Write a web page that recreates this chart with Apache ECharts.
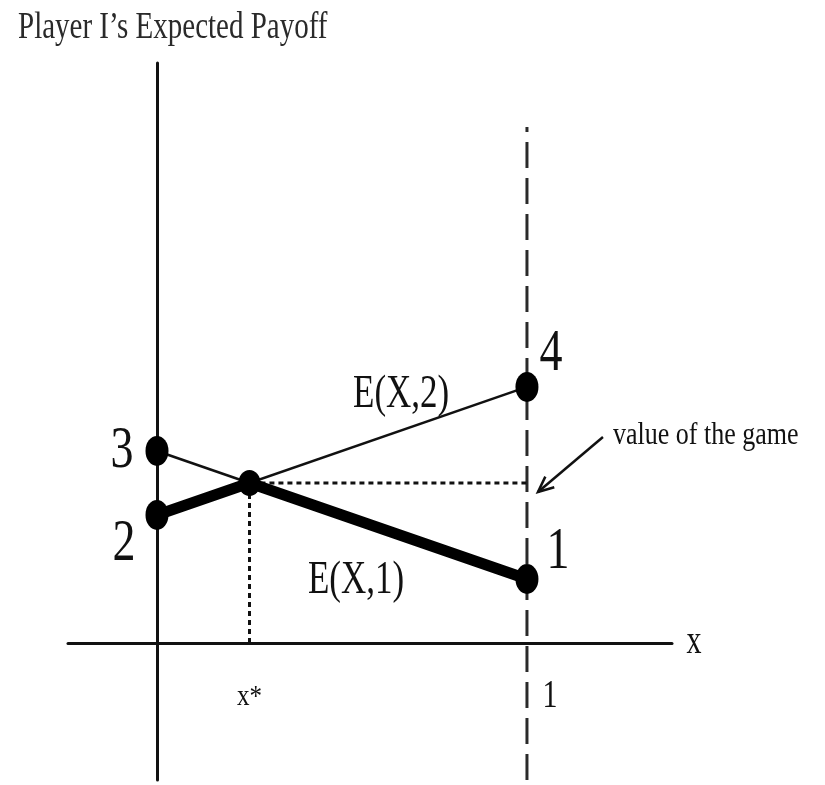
<!DOCTYPE html>
<html>
<head>
<meta charset="utf-8">
<title>Player I's Expected Payoff</title>
<script src="https://cdn.jsdelivr.net/npm/echarts@6/dist/echarts.min.js"></script>
<style>
  html, body { margin: 0; padding: 0; background: #fff; }
  #main { width: 825px; height: 785px; }
</style>
</head>
<body>
<div id="main"></div>
<script>
// probability x that player I puts on row 1 (ends of the segment)
const xEnds = [0, 1];
// player I's expected payoff against each column of player II
const payoffCol1 = [3, 1]; // E(X,1)
const payoffCol2 = [2, 4]; // E(X,2)
// optimal strategy and value of the game
const xStar = 0.25;
const gameValue = 2.5;

const lineNames = ['E(X,1)', 'E(X,2)'];
const yAxisTitle = 'Player I’s Expected Payoff';
const xAxisTitle = 'x';
const xTickLabels = ['x*', '1'];
const valueNote = 'value of the game';

// visible extent of the two axes
const xMin = -0.2405, xMax = 1.392;
const yMin = -2.14, yMax = 9.06;

const FONT = '"Liberation Serif", "Times New Roman", serif';
const INK = '#111';

const seg = (ys) => xEnds.map((x, i) => [x, ys[i]]);
const lowerEnvelope = [
  [xEnds[0], Math.min(payoffCol1[0], payoffCol2[0])],
  [xStar, gameValue],
  [xEnds[1], Math.min(payoffCol1[1], payoffCol2[1])],
];

// text notes, anchored on data points, shifted in pixels
const lerp = (ys, t) => ys[0] + (ys[1] - ys[0]) * t;
const notes = [
  { at: [0, payoffCol1[0]], text: String(payoffCol1[0]), dx: -35, dy: 0, size: 46, sy: 1.3 },
  { at: [0, payoffCol2[0]], text: String(payoffCol2[0]), dx: -33, dy: 29, size: 46, sy: 1.3 },
  { at: [1, payoffCol2[1]], text: String(payoffCol2[1]), dx: 24, dy: -33, size: 46, sy: 1.3 },
  { at: [1, payoffCol1[1]], text: String(payoffCol1[1]), dx: 31, dy: -27, size: 46, sy: 1.3 },
  { at: [0.66, lerp(payoffCol2, 0.66)], text: lineNames[1], dx: 0, dy: -36, size: 35, sy: 1.35 },
  { at: [0.538, lerp(payoffCol1, 0.538)], text: lineNames[0], dx: 0, dy: 61, size: 35, sy: 1.35 },
  { at: [1, gameValue], text: valueNote, dx: 86, dy: -47, size: 26, sy: 1.25, align: 'left' },
  { at: [xMax, 0], text: xAxisTitle, dx: 22, dy: -1, size: 30, sy: 1.35 },
  { at: [xStar, 0], text: xTickLabels[0], dx: 0, dy: 54, size: 25, sy: 1.2 },
  { at: [1, 0], text: xTickLabels[1], dx: 23, dy: 54, size: 30, sy: 1.3 },
];

const chart = echarts.init(document.getElementById('main'), null, { renderer: 'canvas' });

const option = {
  animation: false,
  backgroundColor: '#fff',
  grid: { left: 68, right: 153, top: 63, bottom: 5, containLabel: false },
  xAxis: {
    type: 'value', min: xMin, max: xMax,
    axisLine: { show: true, onZero: true, lineStyle: { color: INK, width: 3 } },
    axisTick: { show: false }, axisLabel: { show: false }, splitLine: { show: false },
  },
  yAxis: {
    type: 'value', min: yMin, max: yMax,
    axisLine: { show: true, onZero: true, lineStyle: { color: INK, width: 3 } },
    axisTick: { show: false }, axisLabel: { show: false }, splitLine: { show: false },
  },
  graphic: [{
    type: 'text', x: 18, y: 28, scaleY: 1.3,
    style: { text: yAxisTitle, font: '29px ' + FONT, fill: '#2a2a2a', align: 'left', verticalAlign: 'middle' },
  }],
  series: [
    { // dashed vertical at x = 1
      type: 'line', data: [[1, yMin], [1, 8.06]], symbol: 'none', silent: true,
      lineStyle: { color: '#2a2a2a', width: 3, type: [26, 10] }, z: 1,
    },
    { // dotted guides to x* and value of the game
      type: 'line', data: [[xStar, 0], [xStar, gameValue], [1, gameValue]], symbol: 'none', silent: true,
      lineStyle: { color: INK, width: 3, type: [5, 4] }, z: 1,
    },
    { name: lineNames[0], type: 'line', data: seg(payoffCol1), symbol: 'none',
      lineStyle: { color: INK, width: 2.5 }, z: 2 },
    { name: lineNames[1], type: 'line', data: seg(payoffCol2), symbol: 'none',
      lineStyle: { color: INK, width: 2.5 }, z: 2 },
    { // player I's guaranteed payoff (lower envelope)
      type: 'line', data: lowerEnvelope, symbol: 'none',
      lineStyle: { color: '#000', width: 11, cap: 'round', join: 'round' }, z: 3,
    },
    {
      type: 'scatter', data: seg(payoffCol1).concat(seg(payoffCol2)),
      symbol: 'circle', symbolSize: [23, 30], itemStyle: { color: '#000', opacity: 1 }, z: 4,
    },
    {
      type: 'scatter', data: [[xStar, gameValue]],
      symbol: 'circle', symbolSize: [22, 26], itemStyle: { color: '#000', opacity: 1 }, z: 4,
    },
    { // arrow pointing at the value of the game
      type: 'custom', data: [[1, gameValue]], z: 5, silent: true,
      renderItem(params, api) {
        const p = api.coord([api.value(0), api.value(1)]);
        const tip = [p[0] + 11, p[1] + 9];
        const tail = [p[0] + 76, p[1] - 46];
        const ang = Math.atan2(tail[1] - tip[1], tail[0] - tip[0]);
        const L = 17, spread = 0.42;
        const a1 = [tip[0] + L * Math.cos(ang + spread), tip[1] + L * Math.sin(ang + spread)];
        const a2 = [tip[0] + L * Math.cos(ang - spread), tip[1] + L * Math.sin(ang - spread)];
        const st = { stroke: INK, lineWidth: 2.5, fill: null };
        return {
          type: 'group',
          children: [
            { type: 'line', shape: { x1: tail[0], y1: tail[1], x2: tip[0], y2: tip[1] }, style: st },
            { type: 'polyline', shape: { points: [a1, tip, a2] }, style: st },
          ],
        };
      },
    },
    { // text notes
      type: 'custom', data: notes.map(n => n.at), z: 6, silent: true,
      renderItem(params, api) {
        const n = notes[params.dataIndex];
        const p = api.coord([api.value(0), api.value(1)]);
        return {
          type: 'text', x: p[0] + n.dx, y: p[1] + n.dy, scaleY: n.sy,
          style: {
            text: n.text, font: n.size + 'px ' + FONT, fill: INK,
            align: n.align || 'center', verticalAlign: 'middle',
          },
        };
      },
    },
  ],
};

chart.setOption(option);
</script>
</body>
</html>
